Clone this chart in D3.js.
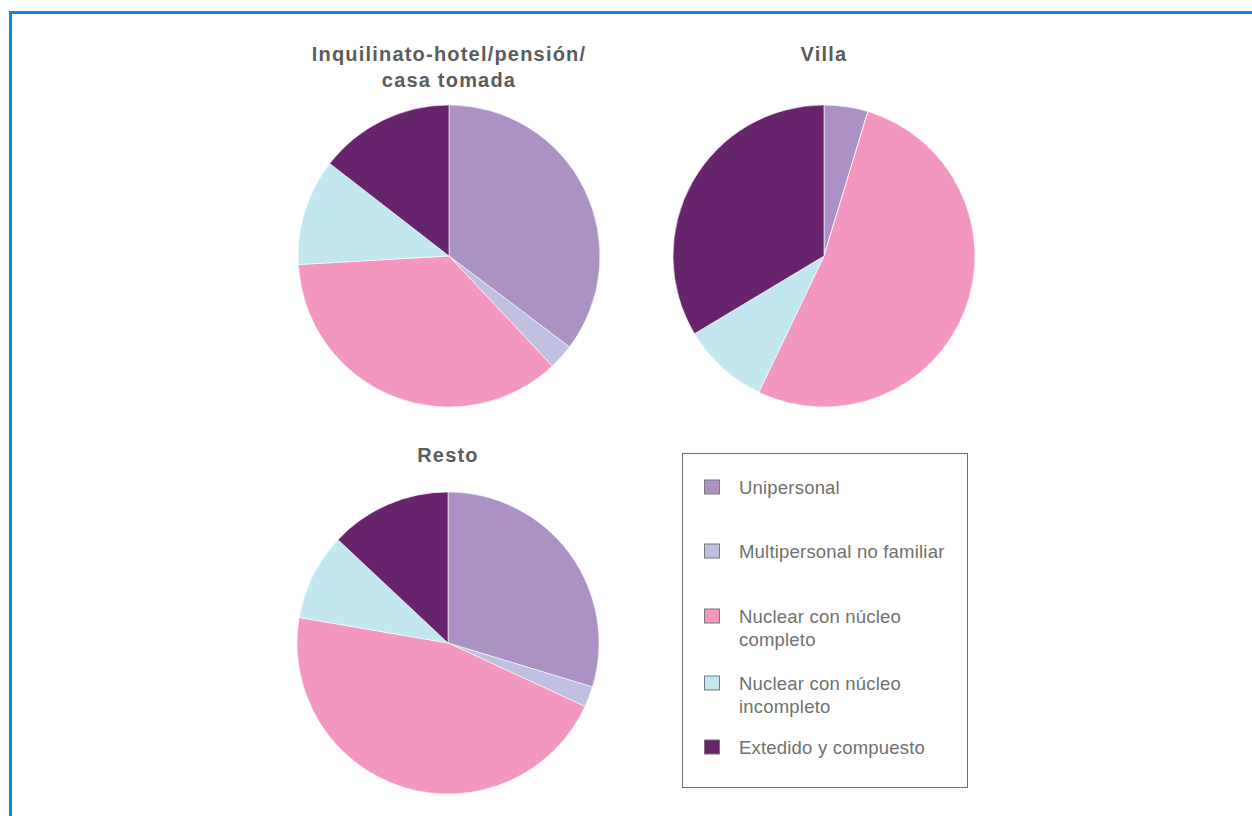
<!DOCTYPE html>
<html>
<head>
<meta charset="utf-8">
<script src="https://cdn.jsdelivr.net/npm/d3@7"></script>
<style>
  body { margin: 0; background: #fff; }
  svg { display: block; }
</style>
</head>
<body>
<svg width="1252" height="816"></svg>
<script>
var categories = ["Unipersonal", "Multipersonal no familiar", "Nuclear con núcleo completo", "Nuclear con núcleo incompleto", "Extedido y compuesto"];
var legendLines = [["Unipersonal"], ["Multipersonal no familiar"], ["Nuclear con núcleo", "completo"], ["Nuclear con núcleo", "incompleto"], ["Extedido y compuesto"]];
var colors = ["#ab91c4", "#bfbfdf", "#f497c0", "#c3e7ee", "#67236b"];

var inquilinato = [35.3, 2.7, 36.1, 11.4, 14.5];
var villa = [4.7, 0, 52.4, 9.3, 33.6];
var resto = [29.7, 2.2, 45.8, 9.3, 13.0];

var panels = [
  {title: ["Inquilinato-hotel/pensión/", "casa tomada"], values: inquilinato, cx: 449, cy: 256, ty: 61},
  {title: ["Villa"], values: villa, cx: 824, cy: 256, ty: 61},
  {title: ["Resto"], values: resto, cx: 448, cy: 643, ty: 462}
];

var svg = d3.select("svg");

// blue frame (left + top)
svg.append("path")
    .attr("d", "M10.5,816V12.5H1252")
    .attr("fill", "none")
    .attr("stroke", "#0a89d2")
    .attr("stroke-width", 3);

var z = d3.scaleOrdinal().domain(categories).range(colors);
var pie = d3.pie().sort(null).value(function(d) { return d.value; });
var arc = d3.arc().innerRadius(0).outerRadius(151);

panels.forEach(function(p) {
  var g = svg.append("g").attr("transform", "translate(" + p.cx + "," + p.cy + ")");
  var data = categories.map(function(c, i) { return {id: c, value: p.values[i]}; });
  g.selectAll("path")
    .data(pie(data))
    .enter().append("path")
      .attr("d", arc)
      .attr("fill", function(d) { return z(d.data.id); })
      .attr("stroke", "#fff")
      .attr("stroke-width", 0.6);

  var t = svg.append("text")
      .attr("x", p.cx)
      .attr("y", p.ty)
      .attr("text-anchor", "middle")
      .style("font", "bold 20px 'Liberation Sans', Arial, sans-serif")
      .style("letter-spacing", "1.2px")
      .attr("fill", "#5c5c5c");
  p.title.forEach(function(line, i) {
    t.append("tspan").attr("x", p.cx).attr("dy", i === 0 ? 0 : 26).text(line);
  });
});

// legend
var legend = svg.append("g");
legend.append("rect")
    .attr("x", 682.5).attr("y", 453.5)
    .attr("width", 285).attr("height", 334)
    .attr("fill", "#fff")
    .attr("stroke", "#6d6d6d")
    .attr("stroke-width", 1);

var legendY = [487, 551, 616, 683, 747];
var item = legend.selectAll(".item")
  .data(categories)
  .enter().append("g")
    .attr("class", "item")
    .attr("transform", function(d, i) { return "translate(704," + legendY[i] + ")"; });

item.append("rect")
    .attr("x", 0.5).attr("y", -7)
    .attr("width", 15).attr("height", 14)
    .attr("fill", function(d) { return z(d); })
    .attr("stroke", "#777")
    .attr("stroke-width", 1);

item.append("text")
    .attr("x", 35)
    .attr("y", 7)
    .style("font", "18.5px 'Liberation Sans', Arial, sans-serif")
    .style("letter-spacing", "0.2px")
    .attr("fill", "#707070")
    .each(function(d, i) {
      var el = d3.select(this);
      legendLines[i].forEach(function(line, j) {
        el.append("tspan").attr("x", 35).attr("dy", j === 0 ? 0 : 23).text(line);
      });
    });
</script>
</body>
</html>
